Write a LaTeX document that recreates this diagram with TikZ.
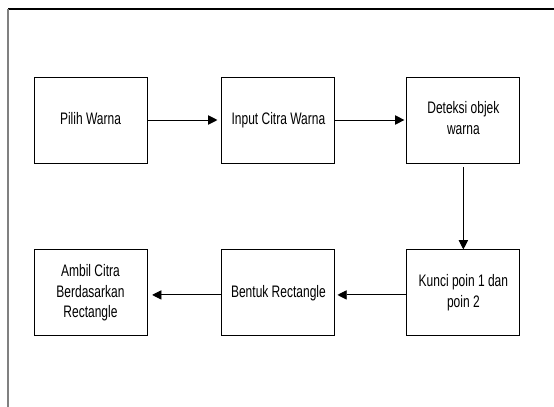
\documentclass[tikz,border=0pt]{standalone}
\usepackage{fontspec}
\setmainfont{Liberation Sans}
\usepackage{graphicx}
\usepackage{tikz}
\usetikzlibrary{arrows.meta,positioning}

\newcommand{\boxtext}[1]{\scalebox{0.72}[1]{\begin{tabular}{@{}c@{}}#1\end{tabular}}}
\tikzset{
  stepbox/.style={rectangle, draw, line width=0.7pt, minimum width=84.75pt, minimum height=64.5pt, inner sep=0pt, font=\fontsize{12.5}{15.5}\selectfont},
  flow/.style={-{Triangle[length=7pt,width=7pt]}, line width=0.7pt}
}

\begin{document}
\begin{tikzpicture}[x=0.75pt,y=-0.75pt]
\useasboundingbox (0,0) rectangle (554,407);
% frame
\draw[line width=0.8pt] (8,9) -- (554,9);
\draw[line width=0.9pt, gray] (8,9) -- (8,407);

\node[stepbox] (pilih) at (90.5,120) {\boxtext{Pilih Warna}};
\node[stepbox, right = 55.5pt of pilih] (input) {\boxtext{Input Citra Warna}};
\node[stepbox, right = 53.25pt of input] (deteksi) {\boxtext{Deteksi objek\\warna}};
\node[stepbox, below = 64.5pt of deteksi] (kunci) {\boxtext{Kunci poin 1 dan\\poin 2}};
\node[stepbox, left = 53.25pt of kunci] (bentuk) {\boxtext{Bentuk Rectangle}};
\node[stepbox, left = 55.5pt of bentuk] (ambil) {\boxtext{Ambil Citra\\Berdasarkan\\Rectangle}};

\draw[flow, shorten >=3pt] (pilih.east) -- (input.west);
\draw[flow, shorten >=1.5pt] (input.east) -- (deteksi.west);
\draw[flow, shorten <=3pt] (deteksi.south) -- (kunci.north);
\draw[flow, shorten >=1.5pt] ([yshift=-1.5pt]kunci.west) -- ([yshift=-1.5pt]bentuk.east);
\draw[flow, shorten >=3.5pt] ([yshift=-1.5pt]bentuk.west) -- ([yshift=-1.5pt]ambil.east);
\end{tikzpicture}
\end{document}
